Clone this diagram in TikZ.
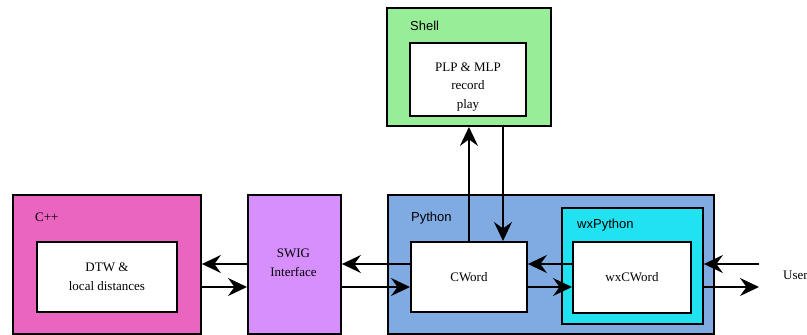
\documentclass[tikz,border=0pt]{standalone}
\usepackage{fontspec}
\setmainfont{Liberation Serif}
\newfontfamily\labfont{Liberation Sans}
\usetikzlibrary{arrows.meta}
\definecolor{cppc}{RGB}{234,101,192}
\definecolor{swigc}{RGB}{214,143,252}
\definecolor{pyc}{RGB}{128,170,226}
\definecolor{wxc}{RGB}{32,226,240}
\definecolor{shellc}{RGB}{152,238,152}
\tikzset{
  box/.style={draw=black, line width=1.9pt, anchor=north west, inner sep=0pt, align=center,
    font=\fontsize{13}{18.5}\selectfont},
  lab/.style={anchor=base west, inner sep=0pt, font=\labfont\fontsize{13}{15}\selectfont},
  slab/.style={anchor=base west, inner sep=0pt, font=\fontsize{13}{15}\selectfont},
  arr/.style={-{Stealth[length=19pt,width=18pt,inset=6.5pt]}, line width=1.9pt},
}
\begin{document}
\begin{tikzpicture}[x=1pt,y=-1pt]
\useasboundingbox (0,0) rectangle (807,335);
% outer containers
\node[box, fill=cppc, minimum width=188, minimum height=139] (cpp) at (12,194) {};
\node[box, fill=swigc, minimum width=93, minimum height=139] (swig) at (247,194) {};
\node[box, fill=pyc, minimum width=326, minimum height=139] (py) at (387,194) {};
\node[box, fill=wxc, minimum width=141, minimum height=116] (wx) at (561,207) {};
\node[box, fill=shellc, minimum width=164, minimum height=118] (shell) at (386,7) {};
% labels
\node[slab] (cpplab) at (35,221) {C++};
\node[lab] (pylab) at (411,221) {Python};
\node[lab] (wxlab) at (577,228) {wxPython};
\node[lab] (shlab) at (410,30) {Shell};
\node[anchor=center, align=center, font=\fontsize{13}{18.5}\selectfont] (swigtxt) at (293.5,263) {SWIG\\Interface};
% inner boxes
\node[box, fill=white, minimum width=140, minimum height=70] (dtw) at (36,241) {};
\node[align=center, font=\fontsize{13}{18.5}\selectfont] (dtwtxt) at (dtw.center) {DTW \&\\local distances};
\node[box, fill=white, minimum width=116, minimum height=70] (cword) at (410,241) {};
\node[font=\fontsize{13}{18.5}\selectfont] (cwordtxt) at (cword.center) {CWord};
\node[box, fill=white, minimum width=118, minimum height=71] (wxcw) at (572,241) {};
\node[font=\fontsize{13}{18.5}\selectfont] (wxcwtxt) at (wxcw.center) {wxCWord};
\node[box, fill=white, minimum width=116, minimum height=73] (plp) at (409,42) {};
\node[align=center, font=\fontsize{13}{18.5}\selectfont, yshift=-7.5pt] (plptxt) at (plp.center) {PLP \& MLP\\record\\play};
% user
\node[anchor=west, inner sep=0pt, font=\fontsize{13}{15}\selectfont] (user) at (783,275) {User};
\coordinate (yA) at (0,264);
\coordinate (yB) at (0,287);
\coordinate (uA) at (759,264);
\coordinate (uB) at (759,287);
\coordinate (xD) at (503,0);
% arrows
\draw[arr] (swig.west |- yA) -- (cpp.east |- yA);
\draw[arr] (cpp.east |- yB) -- (swig.west |- yB);
\draw[arr] (cword.west |- yA) -- (swig.east |- yA);
\draw[arr] (swig.east |- yB) -- (cword.west |- yB);
\draw[arr] (wxcw.west |- yA) -- (cword.east |- yA);
\draw[arr] (cword.east |- yB) -- (wxcw.west |- yB);
\draw[arr] (uA) -- (wx.east |- uA);
\draw[arr] (wx.east |- uB) -- (uB);
\draw[arr] (cword.north) -- (cword.north |- shell.south);
\draw[arr] (xD |- shell.south) -- (xD |- cword.north);
\end{tikzpicture}
\end{document}
